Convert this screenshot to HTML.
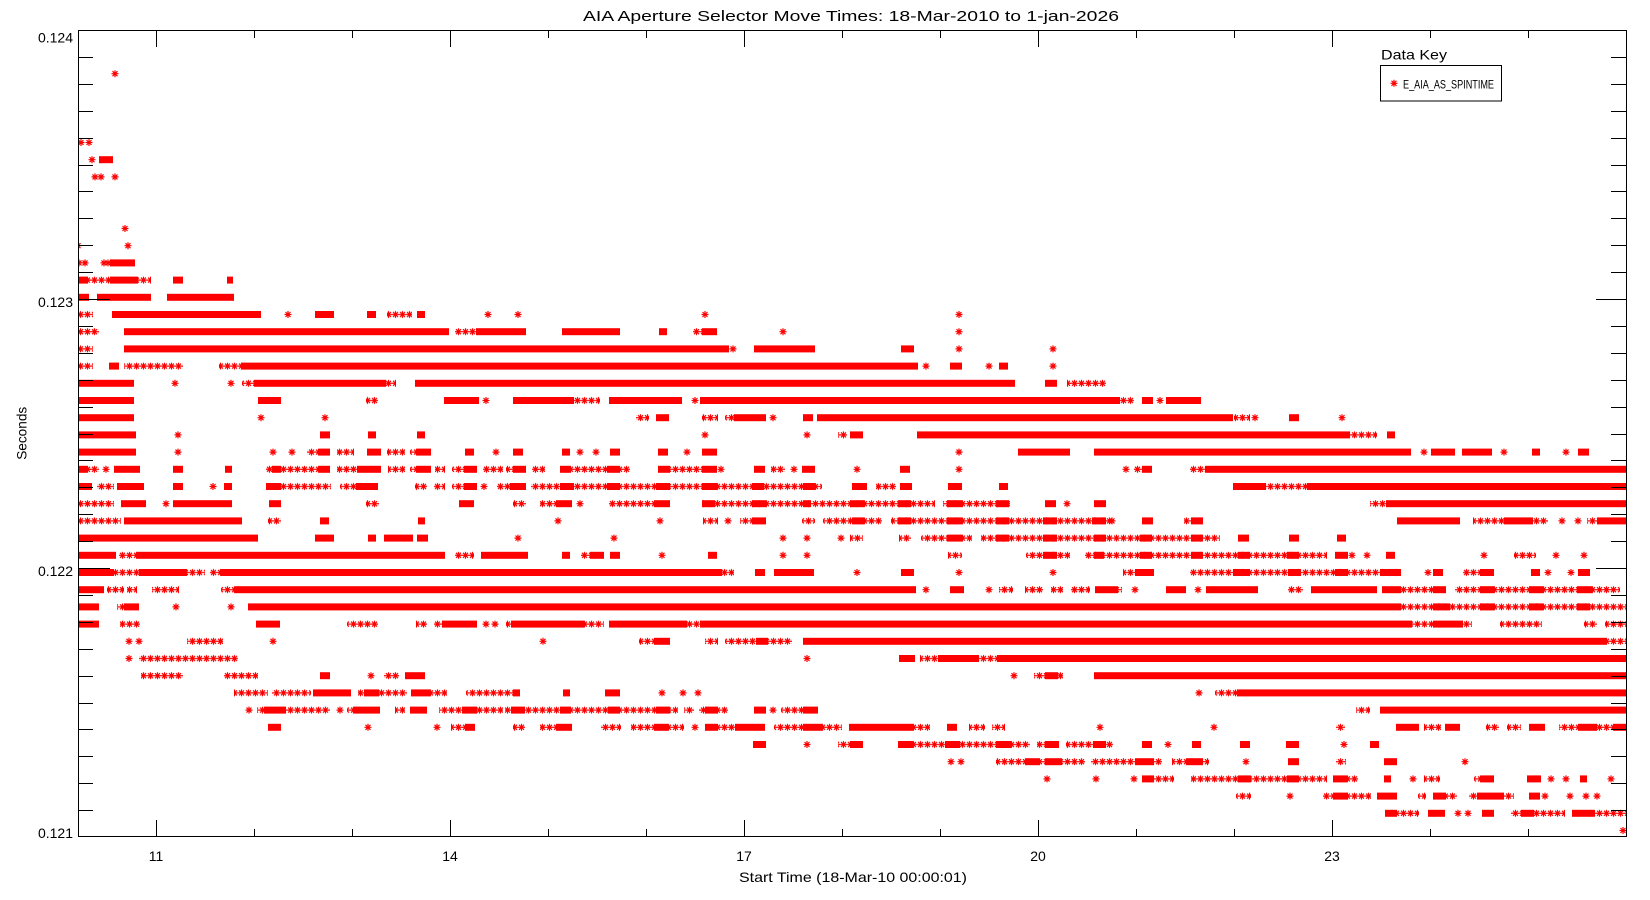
<!DOCTYPE html>
<html><head><meta charset="utf-8"><style>
html,body{margin:0;padding:0;background:#fff;width:1650px;height:900px;overflow:hidden}
svg{display:block}
text{font-family:"Liberation Sans",sans-serif;fill:#000}
</style></head><body>
<svg width="1650" height="900" viewBox="0 0 1650 900" xmlns="http://www.w3.org/2000/svg">
<defs>
<path id="s" d="M-3.5 0H3.5M0 -3.5V3.5M-2.5 -2.5L2.5 2.5M-2.5 2.5L2.5 -2.5" stroke="#f00" stroke-width="1.2" fill="none"/>
<pattern id="p" patternUnits="userSpaceOnUse" x="0" y="-8.6" width="7" height="17.2"><path d="M0 8.6H7M3.5 5.1V12.1M1 6.1L6 11.1M1 11.1L6 6.1" stroke="#f00" stroke-width="1.2" fill="none"/></pattern>
<clipPath id="c"><rect x="78" y="30" width="1549" height="807"/></clipPath>
</defs>
<rect width="1650" height="900" fill="#fff"/>
<g clip-path="url(#c)" fill="#f00">
<g transform="translate(0,73.7)"><use href="#s" x="115"/></g>
<g transform="translate(0,142.5)"><use href="#s" x="81"/><use href="#s" x="89"/></g>
<g transform="translate(0,159.7)"><use href="#s" x="92"/><rect x="99" y="-3.5" width="14" height="7"/></g>
<g transform="translate(0,176.9)"><use href="#s" x="95"/><use href="#s" x="101"/><use href="#s" x="115"/></g>
<g transform="translate(0,228.5)"><use href="#s" x="125"/></g>
<g transform="translate(0,245.7)"><use href="#s" x="78"/><use href="#s" x="128"/></g>
<g transform="translate(0,262.9)"><use href="#s" x="79"/><use href="#s" x="85"/><use href="#s" x="104"/><use href="#s" x="108"/><rect x="110" y="-3.5" width="25" height="7"/></g>
<g transform="translate(0,280.1)"><rect x="88" y="-4" width="22" height="8" fill="url(#p)"/><rect x="138" y="-4" width="13" height="8" fill="url(#p)"/><rect x="78" y="-3.5" width="10" height="7"/><rect x="110" y="-3.5" width="28" height="7"/><rect x="173" y="-3.5" width="10" height="7"/><rect x="227" y="-3.5" width="6" height="7"/></g>
<g transform="translate(0,297.3)"><rect x="78" y="-3.5" width="11" height="7"/><rect x="97" y="-3.5" width="54" height="7"/><rect x="167" y="-3.5" width="67" height="7"/></g>
<g transform="translate(0,314.5)"><rect x="78" y="-4" width="15" height="8" fill="url(#p)"/><rect x="387" y="-4" width="25" height="8" fill="url(#p)"/><rect x="112" y="-3.5" width="149" height="7"/><rect x="315" y="-3.5" width="19" height="7"/><rect x="367" y="-3.5" width="9" height="7"/><rect x="417" y="-3.5" width="8" height="7"/><use href="#s" x="288"/><use href="#s" x="488"/><use href="#s" x="518"/><use href="#s" x="705"/><use href="#s" x="959"/></g>
<g transform="translate(0,331.7)"><rect x="78" y="-4" width="21" height="8" fill="url(#p)"/><rect x="455" y="-4" width="21" height="8" fill="url(#p)"/><rect x="693" y="-4" width="9" height="8" fill="url(#p)"/><rect x="124" y="-3.5" width="325" height="7"/><rect x="476" y="-3.5" width="50" height="7"/><rect x="562" y="-3.5" width="58" height="7"/><rect x="659" y="-3.5" width="8" height="7"/><rect x="702" y="-3.5" width="15" height="7"/><use href="#s" x="783"/><use href="#s" x="959"/></g>
<g transform="translate(0,348.9)"><rect x="78" y="-4" width="15" height="8" fill="url(#p)"/><rect x="124" y="-3.5" width="605" height="7"/><rect x="754" y="-3.5" width="61" height="7"/><rect x="901" y="-3.5" width="13" height="7"/><use href="#s" x="733"/><use href="#s" x="959"/><use href="#s" x="1053"/></g>
<g transform="translate(0,366.1)"><rect x="78" y="-4" width="15" height="8" fill="url(#p)"/><rect x="124" y="-4" width="59" height="8" fill="url(#p)"/><rect x="219" y="-4" width="22" height="8" fill="url(#p)"/><rect x="109" y="-3.5" width="10" height="7"/><rect x="241" y="-3.5" width="677" height="7"/><rect x="950" y="-3.5" width="12" height="7"/><rect x="999" y="-3.5" width="9" height="7"/><use href="#s" x="926"/><use href="#s" x="989"/><use href="#s" x="1053"/></g>
<g transform="translate(0,383.3)"><rect x="242" y="-4" width="12" height="8" fill="url(#p)"/><rect x="386" y="-4" width="10" height="8" fill="url(#p)"/><rect x="1067" y="-4" width="39" height="8" fill="url(#p)"/><rect x="78" y="-3.5" width="56" height="7"/><rect x="254" y="-3.5" width="132" height="7"/><rect x="415" y="-3.5" width="600" height="7"/><rect x="1045" y="-3.5" width="12" height="7"/><use href="#s" x="175"/><use href="#s" x="231"/></g>
<g transform="translate(0,400.5)"><rect x="366" y="-4" width="12" height="8" fill="url(#p)"/><rect x="574" y="-4" width="26" height="8" fill="url(#p)"/><rect x="1120" y="-4" width="14" height="8" fill="url(#p)"/><rect x="78" y="-3.5" width="56" height="7"/><rect x="258" y="-3.5" width="23" height="7"/><rect x="444" y="-3.5" width="35" height="7"/><rect x="513" y="-3.5" width="61" height="7"/><rect x="609" y="-3.5" width="73" height="7"/><rect x="700" y="-3.5" width="420" height="7"/><rect x="1142" y="-3.5" width="11" height="7"/><rect x="1166" y="-3.5" width="35" height="7"/><use href="#s" x="486"/><use href="#s" x="695"/><use href="#s" x="1160"/></g>
<g transform="translate(0,417.7)"><rect x="636" y="-4" width="13" height="8" fill="url(#p)"/><rect x="702" y="-4" width="16" height="8" fill="url(#p)"/><rect x="725" y="-4" width="9" height="8" fill="url(#p)"/><rect x="1234" y="-4" width="16" height="8" fill="url(#p)"/><rect x="78" y="-3.5" width="56" height="7"/><rect x="656" y="-3.5" width="13" height="7"/><rect x="734" y="-3.5" width="32" height="7"/><rect x="803" y="-3.5" width="10" height="7"/><rect x="817" y="-3.5" width="416" height="7"/><rect x="1289" y="-3.5" width="10" height="7"/><use href="#s" x="261"/><use href="#s" x="325"/><use href="#s" x="773"/><use href="#s" x="1255"/><use href="#s" x="1342"/></g>
<g transform="translate(0,434.9)"><rect x="838" y="-4" width="9" height="8" fill="url(#p)"/><rect x="1350" y="-4" width="27" height="8" fill="url(#p)"/><rect x="78" y="-3.5" width="58" height="7"/><rect x="320" y="-3.5" width="10" height="7"/><rect x="368" y="-3.5" width="8" height="7"/><rect x="417" y="-3.5" width="8" height="7"/><rect x="850" y="-3.5" width="13" height="7"/><rect x="917" y="-3.5" width="433" height="7"/><rect x="1387" y="-3.5" width="8" height="7"/><use href="#s" x="178"/><use href="#s" x="705"/><use href="#s" x="807"/></g>
<g transform="translate(0,452.1)"><rect x="307" y="-4" width="12" height="8" fill="url(#p)"/><rect x="337" y="-4" width="17" height="8" fill="url(#p)"/><rect x="387" y="-4" width="18" height="8" fill="url(#p)"/><rect x="410" y="-4" width="7" height="8" fill="url(#p)"/><rect x="78" y="-3.5" width="58" height="7"/><rect x="319" y="-3.5" width="11" height="7"/><rect x="367" y="-3.5" width="14" height="7"/><rect x="417" y="-3.5" width="14" height="7"/><rect x="465" y="-3.5" width="9" height="7"/><rect x="513" y="-3.5" width="10" height="7"/><rect x="562" y="-3.5" width="8" height="7"/><rect x="610" y="-3.5" width="10" height="7"/><rect x="658" y="-3.5" width="10" height="7"/><rect x="702" y="-3.5" width="15" height="7"/><rect x="1018" y="-3.5" width="52" height="7"/><rect x="1094" y="-3.5" width="317" height="7"/><rect x="1431" y="-3.5" width="24" height="7"/><rect x="1462" y="-3.5" width="30" height="7"/><rect x="1532" y="-3.5" width="8" height="7"/><rect x="1578" y="-3.5" width="11" height="7"/><use href="#s" x="178"/><use href="#s" x="273"/><use href="#s" x="292"/><use href="#s" x="496"/><use href="#s" x="580"/><use href="#s" x="596"/><use href="#s" x="687"/><use href="#s" x="959"/><use href="#s" x="1424"/><use href="#s" x="1504"/><use href="#s" x="1566"/></g>
<g transform="translate(0,469.3)"><rect x="87" y="-4" width="12" height="8" fill="url(#p)"/><rect x="266" y="-4" width="6" height="8" fill="url(#p)"/><rect x="281" y="-4" width="38" height="8" fill="url(#p)"/><rect x="337" y="-4" width="20" height="8" fill="url(#p)"/><rect x="388" y="-4" width="17" height="8" fill="url(#p)"/><rect x="410" y="-4" width="7" height="8" fill="url(#p)"/><rect x="435" y="-4" width="10" height="8" fill="url(#p)"/><rect x="452" y="-4" width="12" height="8" fill="url(#p)"/><rect x="483" y="-4" width="20" height="8" fill="url(#p)"/><rect x="506" y="-4" width="7" height="8" fill="url(#p)"/><rect x="532" y="-4" width="13" height="8" fill="url(#p)"/><rect x="571" y="-4" width="36" height="8" fill="url(#p)"/><rect x="620" y="-4" width="10" height="8" fill="url(#p)"/><rect x="670" y="-4" width="32" height="8" fill="url(#p)"/><rect x="771" y="-4" width="14" height="8" fill="url(#p)"/><rect x="1134" y="-4" width="8" height="8" fill="url(#p)"/><rect x="1190" y="-4" width="15" height="8" fill="url(#p)"/><rect x="78" y="-3.5" width="9" height="7"/><rect x="114" y="-3.5" width="26" height="7"/><rect x="173" y="-3.5" width="10" height="7"/><rect x="225" y="-3.5" width="7" height="7"/><rect x="272" y="-3.5" width="9" height="7"/><rect x="319" y="-3.5" width="11" height="7"/><rect x="357" y="-3.5" width="24" height="7"/><rect x="417" y="-3.5" width="14" height="7"/><rect x="464" y="-3.5" width="13" height="7"/><rect x="513" y="-3.5" width="13" height="7"/><rect x="560" y="-3.5" width="11" height="7"/><rect x="607" y="-3.5" width="13" height="7"/><rect x="658" y="-3.5" width="12" height="7"/><rect x="702" y="-3.5" width="15" height="7"/><rect x="754" y="-3.5" width="11" height="7"/><rect x="802" y="-3.5" width="13" height="7"/><rect x="900" y="-3.5" width="10" height="7"/><rect x="1142" y="-3.5" width="10" height="7"/><rect x="1205" y="-3.5" width="422" height="7"/><use href="#s" x="106"/><use href="#s" x="721"/><use href="#s" x="794"/><use href="#s" x="857"/><use href="#s" x="959"/><use href="#s" x="1126"/></g>
<g transform="translate(0,486.5)"><rect x="97" y="-4" width="17" height="8" fill="url(#p)"/><rect x="281" y="-4" width="50" height="8" fill="url(#p)"/><rect x="340" y="-4" width="16" height="8" fill="url(#p)"/><rect x="415" y="-4" width="12" height="8" fill="url(#p)"/><rect x="434" y="-4" width="11" height="8" fill="url(#p)"/><rect x="452" y="-4" width="12" height="8" fill="url(#p)"/><rect x="497" y="-4" width="13" height="8" fill="url(#p)"/><rect x="531" y="-4" width="29" height="8" fill="url(#p)"/><rect x="574" y="-4" width="33" height="8" fill="url(#p)"/><rect x="620" y="-4" width="36" height="8" fill="url(#p)"/><rect x="670" y="-4" width="32" height="8" fill="url(#p)"/><rect x="717" y="-4" width="35" height="8" fill="url(#p)"/><rect x="764" y="-4" width="39" height="8" fill="url(#p)"/><rect x="815" y="-4" width="7" height="8" fill="url(#p)"/><rect x="876" y="-4" width="20" height="8" fill="url(#p)"/><rect x="1266" y="-4" width="41" height="8" fill="url(#p)"/><rect x="78" y="-3.5" width="14" height="7"/><rect x="117" y="-3.5" width="27" height="7"/><rect x="173" y="-3.5" width="10" height="7"/><rect x="224" y="-3.5" width="8" height="7"/><rect x="266" y="-3.5" width="15" height="7"/><rect x="356" y="-3.5" width="22" height="7"/><rect x="464" y="-3.5" width="13" height="7"/><rect x="510" y="-3.5" width="16" height="7"/><rect x="560" y="-3.5" width="14" height="7"/><rect x="607" y="-3.5" width="13" height="7"/><rect x="656" y="-3.5" width="14" height="7"/><rect x="702" y="-3.5" width="15" height="7"/><rect x="752" y="-3.5" width="12" height="7"/><rect x="803" y="-3.5" width="12" height="7"/><rect x="852" y="-3.5" width="15" height="7"/><rect x="900" y="-3.5" width="12" height="7"/><rect x="948" y="-3.5" width="14" height="7"/><rect x="999" y="-3.5" width="9" height="7"/><rect x="1233" y="-3.5" width="33" height="7"/><rect x="1307" y="-3.5" width="320" height="7"/><use href="#s" x="213"/><use href="#s" x="484"/></g>
<g transform="translate(0,503.7)"><rect x="78" y="-4" width="36" height="8" fill="url(#p)"/><rect x="366" y="-4" width="13" height="8" fill="url(#p)"/><rect x="513" y="-4" width="13" height="8" fill="url(#p)"/><rect x="540" y="-4" width="16" height="8" fill="url(#p)"/><rect x="609" y="-4" width="45" height="8" fill="url(#p)"/><rect x="702" y="-4" width="233" height="8" fill="url(#p)"/><rect x="943" y="-4" width="67" height="8" fill="url(#p)"/><rect x="1370" y="-4" width="16" height="8" fill="url(#p)"/><rect x="121" y="-3.5" width="25" height="7"/><rect x="173" y="-3.5" width="59" height="7"/><rect x="269" y="-3.5" width="12" height="7"/><rect x="459" y="-3.5" width="15" height="7"/><rect x="556" y="-3.5" width="16" height="7"/><rect x="654" y="-3.5" width="16" height="7"/><rect x="702" y="-3.5" width="13" height="7"/><rect x="752" y="-3.5" width="14" height="7"/><rect x="803" y="-3.5" width="8" height="7"/><rect x="850" y="-3.5" width="14" height="7"/><rect x="898" y="-3.5" width="13" height="7"/><rect x="947" y="-3.5" width="15" height="7"/><rect x="996" y="-3.5" width="13" height="7"/><rect x="1045" y="-3.5" width="11" height="7"/><rect x="1094" y="-3.5" width="12" height="7"/><rect x="1386" y="-3.5" width="241" height="7"/><use href="#s" x="166"/><use href="#s" x="580"/><use href="#s" x="1067"/></g>
<g transform="translate(0,520.9)"><rect x="78" y="-4" width="43" height="8" fill="url(#p)"/><rect x="268" y="-4" width="13" height="8" fill="url(#p)"/><rect x="703" y="-4" width="15" height="8" fill="url(#p)"/><rect x="740" y="-4" width="12" height="8" fill="url(#p)"/><rect x="802" y="-4" width="13" height="8" fill="url(#p)"/><rect x="823" y="-4" width="29" height="8" fill="url(#p)"/><rect x="864" y="-4" width="18" height="8" fill="url(#p)"/><rect x="891" y="-4" width="223" height="8" fill="url(#p)"/><rect x="1184" y="-4" width="7" height="8" fill="url(#p)"/><rect x="1473" y="-4" width="31" height="8" fill="url(#p)"/><rect x="1533" y="-4" width="15" height="8" fill="url(#p)"/><rect x="1587" y="-4" width="10" height="8" fill="url(#p)"/><rect x="124" y="-3.5" width="118" height="7"/><rect x="320" y="-3.5" width="9" height="7"/><rect x="418" y="-3.5" width="7" height="7"/><rect x="752" y="-3.5" width="14" height="7"/><rect x="852" y="-3.5" width="12" height="7"/><rect x="898" y="-3.5" width="13" height="7"/><rect x="947" y="-3.5" width="15" height="7"/><rect x="996" y="-3.5" width="13" height="7"/><rect x="1043" y="-3.5" width="14" height="7"/><rect x="1092" y="-3.5" width="14" height="7"/><rect x="1142" y="-3.5" width="11" height="7"/><rect x="1191" y="-3.5" width="12" height="7"/><rect x="1397" y="-3.5" width="63" height="7"/><rect x="1504" y="-3.5" width="29" height="7"/><rect x="1597" y="-3.5" width="30" height="7"/><use href="#s" x="558"/><use href="#s" x="660"/><use href="#s" x="728"/><use href="#s" x="1112"/><use href="#s" x="1562"/><use href="#s" x="1578"/></g>
<g transform="translate(0,538.1)"><rect x="850" y="-4" width="13" height="8" fill="url(#p)"/><rect x="899" y="-4" width="12" height="8" fill="url(#p)"/><rect x="921" y="-4" width="26" height="8" fill="url(#p)"/><rect x="962" y="-4" width="10" height="8" fill="url(#p)"/><rect x="981" y="-4" width="239" height="8" fill="url(#p)"/><rect x="78" y="-3.5" width="180" height="7"/><rect x="315" y="-3.5" width="19" height="7"/><rect x="368" y="-3.5" width="8" height="7"/><rect x="384" y="-3.5" width="29" height="7"/><rect x="417" y="-3.5" width="11" height="7"/><rect x="947" y="-3.5" width="15" height="7"/><rect x="996" y="-3.5" width="13" height="7"/><rect x="1043" y="-3.5" width="14" height="7"/><rect x="1094" y="-3.5" width="12" height="7"/><rect x="1140" y="-3.5" width="12" height="7"/><rect x="1191" y="-3.5" width="12" height="7"/><rect x="1238" y="-3.5" width="11" height="7"/><rect x="1289" y="-3.5" width="10" height="7"/><rect x="1337" y="-3.5" width="9" height="7"/><use href="#s" x="518"/><use href="#s" x="614"/><use href="#s" x="783"/><use href="#s" x="807"/><use href="#s" x="841"/></g>
<g transform="translate(0,555.3)"><rect x="119" y="-4" width="18" height="8" fill="url(#p)"/><rect x="455" y="-4" width="19" height="8" fill="url(#p)"/><rect x="581" y="-4" width="9" height="8" fill="url(#p)"/><rect x="948" y="-4" width="14" height="8" fill="url(#p)"/><rect x="1026" y="-4" width="44" height="8" fill="url(#p)"/><rect x="1085" y="-4" width="242" height="8" fill="url(#p)"/><rect x="1514" y="-4" width="22" height="8" fill="url(#p)"/><rect x="78" y="-3.5" width="38" height="7"/><rect x="137" y="-3.5" width="308" height="7"/><rect x="481" y="-3.5" width="47" height="7"/><rect x="562" y="-3.5" width="8" height="7"/><rect x="590" y="-3.5" width="14" height="7"/><rect x="610" y="-3.5" width="10" height="7"/><rect x="708" y="-3.5" width="9" height="7"/><rect x="1043" y="-3.5" width="14" height="7"/><rect x="1094" y="-3.5" width="10" height="7"/><rect x="1140" y="-3.5" width="12" height="7"/><rect x="1191" y="-3.5" width="12" height="7"/><rect x="1238" y="-3.5" width="12" height="7"/><rect x="1287" y="-3.5" width="12" height="7"/><rect x="1335" y="-3.5" width="13" height="7"/><rect x="1386" y="-3.5" width="9" height="7"/><use href="#s" x="662"/><use href="#s" x="783"/><use href="#s" x="807"/><use href="#s" x="1352"/><use href="#s" x="1367"/><use href="#s" x="1484"/><use href="#s" x="1556"/><use href="#s" x="1584"/></g>
<g transform="translate(0,572.5)"><rect x="114" y="-4" width="25" height="8" fill="url(#p)"/><rect x="187" y="-4" width="18" height="8" fill="url(#p)"/><rect x="210" y="-4" width="11" height="8" fill="url(#p)"/><rect x="722" y="-4" width="12" height="8" fill="url(#p)"/><rect x="1123" y="-4" width="12" height="8" fill="url(#p)"/><rect x="1190" y="-4" width="211" height="8" fill="url(#p)"/><rect x="1463" y="-4" width="17" height="8" fill="url(#p)"/><rect x="78" y="-3.5" width="36" height="7"/><rect x="139" y="-3.5" width="48" height="7"/><rect x="221" y="-3.5" width="501" height="7"/><rect x="755" y="-3.5" width="10" height="7"/><rect x="774" y="-3.5" width="40" height="7"/><rect x="901" y="-3.5" width="13" height="7"/><rect x="1135" y="-3.5" width="19" height="7"/><rect x="1233" y="-3.5" width="17" height="7"/><rect x="1288" y="-3.5" width="13" height="7"/><rect x="1335" y="-3.5" width="13" height="7"/><rect x="1380" y="-3.5" width="21" height="7"/><rect x="1433" y="-3.5" width="10" height="7"/><rect x="1480" y="-3.5" width="14" height="7"/><rect x="1531" y="-3.5" width="9" height="7"/><rect x="1578" y="-3.5" width="12" height="7"/><use href="#s" x="857"/><use href="#s" x="959"/><use href="#s" x="1053"/><use href="#s" x="1428"/><use href="#s" x="1548"/><use href="#s" x="1571"/></g>
<g transform="translate(0,589.7)"><rect x="107" y="-4" width="17" height="8" fill="url(#p)"/><rect x="127" y="-4" width="10" height="8" fill="url(#p)"/><rect x="152" y="-4" width="27" height="8" fill="url(#p)"/><rect x="221" y="-4" width="14" height="8" fill="url(#p)"/><rect x="999" y="-4" width="14" height="8" fill="url(#p)"/><rect x="1025" y="-4" width="18" height="8" fill="url(#p)"/><rect x="1051" y="-4" width="12" height="8" fill="url(#p)"/><rect x="1071" y="-4" width="19" height="8" fill="url(#p)"/><rect x="1118" y="-4" width="4" height="8" fill="url(#p)"/><rect x="1288" y="-4" width="15" height="8" fill="url(#p)"/><rect x="1401" y="-4" width="32" height="8" fill="url(#p)"/><rect x="1455" y="-4" width="25" height="8" fill="url(#p)"/><rect x="1494" y="-4" width="35" height="8" fill="url(#p)"/><rect x="1543" y="-4" width="34" height="8" fill="url(#p)"/><rect x="1592" y="-4" width="28" height="8" fill="url(#p)"/><rect x="78" y="-3.5" width="26" height="7"/><rect x="235" y="-3.5" width="681" height="7"/><rect x="950" y="-3.5" width="14" height="7"/><rect x="1095" y="-3.5" width="23" height="7"/><rect x="1166" y="-3.5" width="20" height="7"/><rect x="1206" y="-3.5" width="52" height="7"/><rect x="1311" y="-3.5" width="66" height="7"/><rect x="1382" y="-3.5" width="19" height="7"/><rect x="1433" y="-3.5" width="13" height="7"/><rect x="1480" y="-3.5" width="14" height="7"/><rect x="1529" y="-3.5" width="14" height="7"/><rect x="1577" y="-3.5" width="15" height="7"/><use href="#s" x="926"/><use href="#s" x="989"/><use href="#s" x="1135"/><use href="#s" x="1198"/></g>
<g transform="translate(0,606.9)"><rect x="117" y="-4" width="7" height="8" fill="url(#p)"/><rect x="1401" y="-4" width="226" height="8" fill="url(#p)"/><rect x="78" y="-3.5" width="21" height="7"/><rect x="124" y="-3.5" width="15" height="7"/><rect x="248" y="-3.5" width="1153" height="7"/><rect x="1433" y="-3.5" width="17" height="7"/><rect x="1480" y="-3.5" width="14" height="7"/><rect x="1529" y="-3.5" width="14" height="7"/><rect x="1577" y="-3.5" width="13" height="7"/><use href="#s" x="176"/><use href="#s" x="231"/></g>
<g transform="translate(0,624.1)"><rect x="120" y="-4" width="20" height="8" fill="url(#p)"/><rect x="347" y="-4" width="31" height="8" fill="url(#p)"/><rect x="416" y="-4" width="11" height="8" fill="url(#p)"/><rect x="434" y="-4" width="8" height="8" fill="url(#p)"/><rect x="506" y="-4" width="5" height="8" fill="url(#p)"/><rect x="584" y="-4" width="20" height="8" fill="url(#p)"/><rect x="687" y="-4" width="13" height="8" fill="url(#p)"/><rect x="1412" y="-4" width="21" height="8" fill="url(#p)"/><rect x="1463" y="-4" width="9" height="8" fill="url(#p)"/><rect x="1500" y="-4" width="42" height="8" fill="url(#p)"/><rect x="1584" y="-4" width="13" height="8" fill="url(#p)"/><rect x="1605" y="-4" width="22" height="8" fill="url(#p)"/><rect x="78" y="-3.5" width="21" height="7"/><rect x="256" y="-3.5" width="24" height="7"/><rect x="442" y="-3.5" width="35" height="7"/><rect x="511" y="-3.5" width="73" height="7"/><rect x="609" y="-3.5" width="78" height="7"/><rect x="700" y="-3.5" width="712" height="7"/><rect x="1433" y="-3.5" width="30" height="7"/><use href="#s" x="486"/><use href="#s" x="495"/></g>
<g transform="translate(0,641.3)"><rect x="187" y="-4" width="36" height="8" fill="url(#p)"/><rect x="639" y="-4" width="15" height="8" fill="url(#p)"/><rect x="705" y="-4" width="13" height="8" fill="url(#p)"/><rect x="725" y="-4" width="31" height="8" fill="url(#p)"/><rect x="768" y="-4" width="24" height="8" fill="url(#p)"/><rect x="1607" y="-4" width="20" height="8" fill="url(#p)"/><rect x="654" y="-3.5" width="16" height="7"/><rect x="756" y="-3.5" width="12" height="7"/><rect x="803" y="-3.5" width="804" height="7"/><use href="#s" x="129"/><use href="#s" x="139"/><use href="#s" x="273"/><use href="#s" x="543"/></g>
<g transform="translate(0,658.5)"><rect x="139" y="-4" width="99" height="8" fill="url(#p)"/><rect x="920" y="-4" width="18" height="8" fill="url(#p)"/><rect x="979" y="-4" width="18" height="8" fill="url(#p)"/><rect x="899" y="-3.5" width="16" height="7"/><rect x="938" y="-3.5" width="41" height="7"/><rect x="997" y="-3.5" width="630" height="7"/><use href="#s" x="129"/><use href="#s" x="807"/></g>
<g transform="translate(0,675.7)"><rect x="141" y="-4" width="42" height="8" fill="url(#p)"/><rect x="224" y="-4" width="34" height="8" fill="url(#p)"/><rect x="384" y="-4" width="15" height="8" fill="url(#p)"/><rect x="1034" y="-4" width="11" height="8" fill="url(#p)"/><rect x="1058" y="-4" width="5" height="8" fill="url(#p)"/><rect x="320" y="-3.5" width="10" height="7"/><rect x="405" y="-3.5" width="20" height="7"/><rect x="1045" y="-3.5" width="13" height="7"/><rect x="1094" y="-3.5" width="533" height="7"/><use href="#s" x="371"/><use href="#s" x="1014"/></g>
<g transform="translate(0,692.9)"><rect x="234" y="-4" width="34" height="8" fill="url(#p)"/><rect x="272" y="-4" width="39" height="8" fill="url(#p)"/><rect x="358" y="-4" width="6" height="8" fill="url(#p)"/><rect x="379" y="-4" width="28" height="8" fill="url(#p)"/><rect x="430" y="-4" width="17" height="8" fill="url(#p)"/><rect x="466" y="-4" width="47" height="8" fill="url(#p)"/><rect x="1215" y="-4" width="22" height="8" fill="url(#p)"/><rect x="313" y="-3.5" width="38" height="7"/><rect x="364" y="-3.5" width="15" height="7"/><rect x="411" y="-3.5" width="19" height="7"/><rect x="513" y="-3.5" width="7" height="7"/><rect x="563" y="-3.5" width="7" height="7"/><rect x="605" y="-3.5" width="15" height="7"/><rect x="1237" y="-3.5" width="390" height="7"/><use href="#s" x="662"/><use href="#s" x="683"/><use href="#s" x="698"/><use href="#s" x="1199"/></g>
<g transform="translate(0,710.1)"><rect x="257" y="-4" width="7" height="8" fill="url(#p)"/><rect x="286" y="-4" width="44" height="8" fill="url(#p)"/><rect x="347" y="-4" width="7" height="8" fill="url(#p)"/><rect x="395" y="-4" width="10" height="8" fill="url(#p)"/><rect x="439" y="-4" width="23" height="8" fill="url(#p)"/><rect x="477" y="-4" width="26" height="8" fill="url(#p)"/><rect x="505" y="-4" width="6" height="8" fill="url(#p)"/><rect x="525" y="-4" width="35" height="8" fill="url(#p)"/><rect x="571" y="-4" width="37" height="8" fill="url(#p)"/><rect x="620" y="-4" width="36" height="8" fill="url(#p)"/><rect x="670" y="-4" width="8" height="8" fill="url(#p)"/><rect x="684" y="-4" width="10" height="8" fill="url(#p)"/><rect x="699" y="-4" width="6" height="8" fill="url(#p)"/><rect x="718" y="-4" width="10" height="8" fill="url(#p)"/><rect x="781" y="-4" width="22" height="8" fill="url(#p)"/><rect x="1356" y="-4" width="14" height="8" fill="url(#p)"/><rect x="264" y="-3.5" width="22" height="7"/><rect x="354" y="-3.5" width="26" height="7"/><rect x="410" y="-3.5" width="17" height="7"/><rect x="462" y="-3.5" width="15" height="7"/><rect x="511" y="-3.5" width="14" height="7"/><rect x="560" y="-3.5" width="11" height="7"/><rect x="608" y="-3.5" width="12" height="7"/><rect x="656" y="-3.5" width="14" height="7"/><rect x="705" y="-3.5" width="13" height="7"/><rect x="754" y="-3.5" width="12" height="7"/><rect x="803" y="-3.5" width="15" height="7"/><rect x="1380" y="-3.5" width="247" height="7"/><use href="#s" x="249"/><use href="#s" x="340"/><use href="#s" x="773"/></g>
<g transform="translate(0,727.3)"><rect x="451" y="-4" width="14" height="8" fill="url(#p)"/><rect x="513" y="-4" width="12" height="8" fill="url(#p)"/><rect x="540" y="-4" width="16" height="8" fill="url(#p)"/><rect x="601" y="-4" width="20" height="8" fill="url(#p)"/><rect x="631" y="-4" width="23" height="8" fill="url(#p)"/><rect x="668" y="-4" width="16" height="8" fill="url(#p)"/><rect x="718" y="-4" width="17" height="8" fill="url(#p)"/><rect x="774" y="-4" width="29" height="8" fill="url(#p)"/><rect x="822" y="-4" width="20" height="8" fill="url(#p)"/><rect x="913" y="-4" width="17" height="8" fill="url(#p)"/><rect x="969" y="-4" width="16" height="8" fill="url(#p)"/><rect x="992" y="-4" width="13" height="8" fill="url(#p)"/><rect x="1336" y="-4" width="9" height="8" fill="url(#p)"/><rect x="1424" y="-4" width="17" height="8" fill="url(#p)"/><rect x="1486" y="-4" width="13" height="8" fill="url(#p)"/><rect x="1507" y="-4" width="14" height="8" fill="url(#p)"/><rect x="1559" y="-4" width="19" height="8" fill="url(#p)"/><rect x="1597" y="-4" width="17" height="8" fill="url(#p)"/><rect x="268" y="-3.5" width="13" height="7"/><rect x="465" y="-3.5" width="10" height="7"/><rect x="556" y="-3.5" width="16" height="7"/><rect x="654" y="-3.5" width="14" height="7"/><rect x="705" y="-3.5" width="13" height="7"/><rect x="735" y="-3.5" width="30" height="7"/><rect x="803" y="-3.5" width="19" height="7"/><rect x="849" y="-3.5" width="64" height="7"/><rect x="947" y="-3.5" width="10" height="7"/><rect x="1396" y="-3.5" width="23" height="7"/><rect x="1445" y="-3.5" width="15" height="7"/><rect x="1529" y="-3.5" width="16" height="7"/><rect x="1578" y="-3.5" width="19" height="7"/><rect x="1614" y="-3.5" width="13" height="7"/><use href="#s" x="368"/><use href="#s" x="437"/><use href="#s" x="695"/><use href="#s" x="1100"/><use href="#s" x="1214"/></g>
<g transform="translate(0,744.5)"><rect x="838" y="-4" width="12" height="8" fill="url(#p)"/><rect x="913" y="-4" width="32" height="8" fill="url(#p)"/><rect x="960" y="-4" width="36" height="8" fill="url(#p)"/><rect x="1011" y="-4" width="19" height="8" fill="url(#p)"/><rect x="1037" y="-4" width="8" height="8" fill="url(#p)"/><rect x="1066" y="-4" width="27" height="8" fill="url(#p)"/><rect x="1106" y="-4" width="7" height="8" fill="url(#p)"/><rect x="753" y="-3.5" width="13" height="7"/><rect x="850" y="-3.5" width="13" height="7"/><rect x="898" y="-3.5" width="15" height="7"/><rect x="945" y="-3.5" width="15" height="7"/><rect x="996" y="-3.5" width="15" height="7"/><rect x="1045" y="-3.5" width="14" height="7"/><rect x="1093" y="-3.5" width="13" height="7"/><rect x="1142" y="-3.5" width="10" height="7"/><rect x="1192" y="-3.5" width="9" height="7"/><rect x="1240" y="-3.5" width="10" height="7"/><rect x="1286" y="-3.5" width="13" height="7"/><rect x="1370" y="-3.5" width="9" height="7"/><use href="#s" x="807"/><use href="#s" x="1168"/><use href="#s" x="1344"/></g>
<g transform="translate(0,761.7)"><rect x="996" y="-4" width="30" height="8" fill="url(#p)"/><rect x="1040" y="-4" width="5" height="8" fill="url(#p)"/><rect x="1062" y="-4" width="23" height="8" fill="url(#p)"/><rect x="1091" y="-4" width="44" height="8" fill="url(#p)"/><rect x="1154" y="-4" width="8" height="8" fill="url(#p)"/><rect x="1172" y="-4" width="14" height="8" fill="url(#p)"/><rect x="1203" y="-4" width="6" height="8" fill="url(#p)"/><rect x="1336" y="-4" width="10" height="8" fill="url(#p)"/><rect x="1026" y="-3.5" width="14" height="7"/><rect x="1045" y="-3.5" width="17" height="7"/><rect x="1135" y="-3.5" width="19" height="7"/><rect x="1186" y="-3.5" width="17" height="7"/><rect x="1288" y="-3.5" width="11" height="7"/><rect x="1384" y="-3.5" width="13" height="7"/><use href="#s" x="951"/><use href="#s" x="961"/><use href="#s" x="1246"/><use href="#s" x="1465"/></g>
<g transform="translate(0,778.9)"><rect x="1154" y="-4" width="20" height="8" fill="url(#p)"/><rect x="1191" y="-4" width="47" height="8" fill="url(#p)"/><rect x="1251" y="-4" width="36" height="8" fill="url(#p)"/><rect x="1299" y="-4" width="28" height="8" fill="url(#p)"/><rect x="1347" y="-4" width="11" height="8" fill="url(#p)"/><rect x="1424" y="-4" width="16" height="8" fill="url(#p)"/><rect x="1474" y="-4" width="7" height="8" fill="url(#p)"/><rect x="1142" y="-3.5" width="12" height="7"/><rect x="1238" y="-3.5" width="13" height="7"/><rect x="1287" y="-3.5" width="12" height="7"/><rect x="1333" y="-3.5" width="14" height="7"/><rect x="1384" y="-3.5" width="7" height="7"/><rect x="1481" y="-3.5" width="13" height="7"/><rect x="1527" y="-3.5" width="14" height="7"/><rect x="1580" y="-3.5" width="7" height="7"/><use href="#s" x="1047"/><use href="#s" x="1096"/><use href="#s" x="1134"/><use href="#s" x="1413"/><use href="#s" x="1551"/><use href="#s" x="1566"/><use href="#s" x="1611"/></g>
<g transform="translate(0,796.1)"><rect x="1236" y="-4" width="15" height="8" fill="url(#p)"/><rect x="1323" y="-4" width="10" height="8" fill="url(#p)"/><rect x="1348" y="-4" width="23" height="8" fill="url(#p)"/><rect x="1418" y="-4" width="8" height="8" fill="url(#p)"/><rect x="1446" y="-4" width="11" height="8" fill="url(#p)"/><rect x="1469" y="-4" width="8" height="8" fill="url(#p)"/><rect x="1504" y="-4" width="10" height="8" fill="url(#p)"/><rect x="1333" y="-3.5" width="15" height="7"/><rect x="1377" y="-3.5" width="20" height="7"/><rect x="1433" y="-3.5" width="13" height="7"/><rect x="1477" y="-3.5" width="27" height="7"/><rect x="1529" y="-3.5" width="11" height="7"/><use href="#s" x="1290"/><use href="#s" x="1545"/><use href="#s" x="1570"/><use href="#s" x="1586"/><use href="#s" x="1597"/></g>
<g transform="translate(0,813.3)"><rect x="1397" y="-4" width="22" height="8" fill="url(#p)"/><rect x="1511" y="-4" width="10" height="8" fill="url(#p)"/><rect x="1534" y="-4" width="31" height="8" fill="url(#p)"/><rect x="1595" y="-4" width="32" height="8" fill="url(#p)"/><rect x="1385" y="-3.5" width="12" height="7"/><rect x="1428" y="-3.5" width="17" height="7"/><rect x="1482" y="-3.5" width="12" height="7"/><rect x="1521" y="-3.5" width="13" height="7"/><rect x="1572" y="-3.5" width="23" height="7"/><use href="#s" x="1458"/><use href="#s" x="1468"/></g>
<g transform="translate(0,830.5)"><use href="#s" x="1623"/></g>
</g>
<g stroke="#000" stroke-width="1" fill="none">
<rect x="78.5" y="30.5" width="1548" height="806"/>
<path d="M78 57.5H93M78 84.5H93M78 111.5H93M78 138.5H93M78 165.5H93M78 191.5H93M78 218.5H93M78 245.5H93M78 272.5H93M78 299.5H110M78 326.5H93M78 353.5H93M78 380.5H93M78 407.5H93M78 434.5H93M78 460.5H93M78 487.5H93M78 514.5H93M78 541.5H93M78 568.5H110M78 595.5H93M78 622.5H93M78 649.5H93M78 676.5H93M78 703.5H93M78 729.5H93M78 756.5H93M78 783.5H93M78 810.5H93"/>
<path d="M1627 57.5H1611M1627 84.5H1611M1627 111.5H1611M1627 138.5H1611M1627 165.5H1611M1627 191.5H1611M1627 218.5H1611M1627 245.5H1611M1627 272.5H1611M1627 299.5H1596M1627 326.5H1611M1627 353.5H1611M1627 380.5H1611M1627 407.5H1611M1627 434.5H1611M1627 460.5H1611M1627 487.5H1611M1627 514.5H1611M1627 541.5H1611M1627 568.5H1596M1627 595.5H1611M1627 622.5H1611M1627 649.5H1611M1627 676.5H1611M1627 703.5H1611M1627 729.5H1611M1627 756.5H1611M1627 783.5H1611M1627 810.5H1611"/>
<path d="M156.5 30V47M254.5 30V38M352.5 30V38M450.5 30V47M548.5 30V38M646.5 30V38M744.5 30V47M842.5 30V38M940.5 30V38M1038.5 30V47M1136.5 30V38M1234.5 30V38M1332.5 30V47M1430.5 30V38M1528.5 30V38"/>
<path d="M156.5 837V820M254.5 837V829M352.5 837V829M450.5 837V820M548.5 837V829M646.5 837V829M744.5 837V820M842.5 837V829M940.5 837V829M1038.5 837V820M1136.5 837V829M1234.5 837V829M1332.5 837V820M1430.5 837V829M1528.5 837V829"/>
<rect x="1380.5" y="65.5" width="121" height="35.5"/>
</g>
<use href="#s" x="1394" y="83.3"/>
<text x="583" y="21" font-size="15" textLength="536" lengthAdjust="spacingAndGlyphs">AIA Aperture Selector Move Times: 18-Mar-2010 to 1-jan-2026</text>
<text x="73" y="42.5" font-size="14" text-anchor="end">0.124</text>
<text x="73" y="307" font-size="14" text-anchor="end">0.123</text>
<text x="73" y="576" font-size="14" text-anchor="end">0.122</text>
<text x="73" y="838" font-size="14" text-anchor="end">0.121</text>
<text x="156" y="861" font-size="14" text-anchor="middle">11</text>
<text x="450" y="861" font-size="14" text-anchor="middle">14</text>
<text x="744" y="861" font-size="14" text-anchor="middle">17</text>
<text x="1038" y="861" font-size="14" text-anchor="middle">20</text>
<text x="1332" y="861" font-size="14" text-anchor="middle">23</text>
<text x="739" y="882" font-size="14" textLength="228" lengthAdjust="spacingAndGlyphs">Start Time (18-Mar-10 00:00:01)</text>
<text transform="translate(26.5,433.3) rotate(-90)" font-size="14" text-anchor="middle" textLength="53" lengthAdjust="spacingAndGlyphs">Seconds</text>
<text x="1381" y="59.5" font-size="14" textLength="66" lengthAdjust="spacingAndGlyphs">Data Key</text>
<text x="1403" y="88.3" font-size="12" textLength="91" lengthAdjust="spacingAndGlyphs">E_AIA_AS_SPINTIME</text>
</svg>
</body></html>
